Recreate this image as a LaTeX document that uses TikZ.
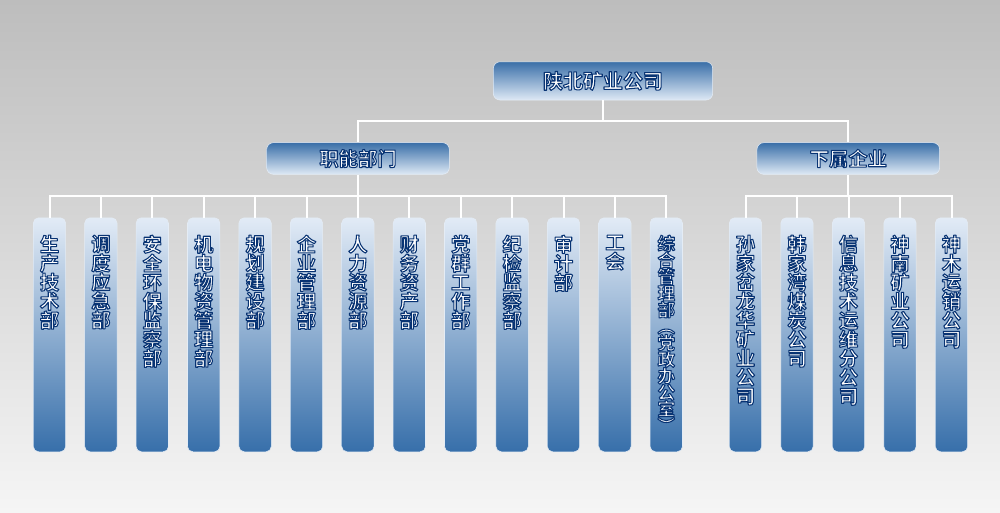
\documentclass[tikz,border=0pt]{standalone}
\usepackage{fontspec}
\newfontfamily\cjk{Noto Sans CJK SC}[BoldFont={Noto Sans CJK SC Bold}]
\usetikzlibrary{calc}
\definecolor{bgtop}{RGB}{189,189,189}
\definecolor{bgbot}{RGB}{245,245,245}
\definecolor{hdtop}{RGB}{58,111,168}
\definecolor{hdbot}{RGB}{222,233,245}
\definecolor{coltop}{RGB}{226,235,246}
\definecolor{colbot}{RGB}{55,111,170}
\definecolor{edgec}{RGB}{228,236,245}
\newcommand\otext[1]{{\leavevmode\color{white}\special{pdf:literal direct q 2 Tr 0.8 w 1 j 0.03 0.2 0.45 RG}#1\special{pdf:literal direct Q}}}
\newcommand\vtext[3]{\parbox[c][175.5pt][t]{24pt}{\centering\cjk\bfseries\fontsize{#1}{#2}\selectfont\lineskiplimit=-100pt\vspace*{13pt}\otext{#3}}}
\newcommand\htext[2]{{\cjk\bfseries\fontsize{#1}{#1}\selectfont\otext{#2}}}
\tikzset{
  hdbox/.style={rounded corners=5pt, top color=hdtop, bottom color=hdbot, draw=edgec, line width=0.4pt, inner sep=0pt},
  colbox/.style={rounded corners=4pt, top color=coltop, bottom color=colbot, draw=edgec, line width=0.4pt, inner sep=0pt, minimum width=24.3pt, anchor=north},
  conn/.style={draw=white, line width=1.5pt}
}
\begin{document}
\begin{tikzpicture}[x=0.75pt,y=-0.75pt]
\shade[top color=bgtop, bottom color=bgbot] (0,0) rectangle (1000,512);
\useasboundingbox (0,0) rectangle (1000,512);
\node[hdbox, minimum width=164.5pt, minimum height=28.7pt] (top) at (603,80.9) {\htext{15}{陕北矿业公司}};
\node[hdbox, minimum width=137pt, minimum height=23.7pt] (fn) at (358,158.5) {\htext{14.5}{职能部门}};
\node[hdbox, minimum width=137pt, minimum height=23.7pt] (sub) at (848.3,158.5) {\htext{14.5}{下属企业}};
\coordinate (bus1) at (0,120.7);
\coordinate (bus2) at (0,195.8);
% left columns
\node[colbox] (l1) at (49.5,217.5) {\vtext{14.5}{14.25}{生\\产\\技\\术\\部}};
\node[colbox] (l2) at (100.9,217.5) {\vtext{14.5}{14.25}{调\\度\\应\\急\\部}};
\node[colbox] (l3) at (152.3,217.5) {\vtext{14.5}{14.25}{安\\全\\环\\保\\监\\察\\部}};
\node[colbox] (l4) at (203.7,217.5) {\vtext{14.5}{14.25}{机\\电\\物\\资\\管\\理\\部}};
\node[colbox] (l5) at (255.1,217.5) {\vtext{14.5}{14.25}{规\\划\\建\\设\\部}};
\node[colbox] (l6) at (306.5,217.5) {\vtext{14.5}{14.25}{企\\业\\管\\理\\部}};
\node[colbox] (l7) at (357.9,217.5) {\vtext{14.5}{14.25}{人\\力\\资\\源\\部}};
\node[colbox] (l8) at (409.3,217.5) {\vtext{14.5}{14.25}{财\\务\\资\\产\\部}};
\node[colbox] (l9) at (460.7,217.5) {\vtext{14.5}{14.25}{党\\群\\工\\作\\部}};
\node[colbox] (l10) at (512.1,217.5) {\vtext{14.5}{14.25}{纪\\检\\监\\察\\部}};
\node[colbox] (l11) at (563.5,217.5) {\vtext{14.5}{14.25}{审\\计\\部}};
\node[colbox] (l12) at (614.9,217.5) {\vtext{14.5}{14.25}{工\\会}};
\node[colbox] (l13) at (666.3,217.5) {\vtext{13.2}{12.4}{综\\合\\管\\理\\部\\︵\\党\\政\\办\\公\\室\\︶}};
% right columns
\node[colbox] (r1) at (745.5,217.5) {\vtext{14.5}{14.25}{孙\\家\\岔\\龙\\华\\矿\\业\\公\\司}};
\node[colbox] (r2) at (797,217.5) {\vtext{14.5}{14.25}{韩\\家\\湾\\煤\\炭\\公\\司}};
\node[colbox] (r3) at (848.5,217.5) {\vtext{14.5}{14.25}{信\\息\\技\\术\\运\\维\\分\\公\\司}};
\node[colbox] (r4) at (900,217.5) {\vtext{14.5}{14.25}{神\\南\\矿\\业\\公\\司}};
\node[colbox] (r5) at (951.5,217.5) {\vtext{14.5}{14.25}{神\\木\\运\\销\\公\\司}};
% connectors
\draw[conn] (top.south) -- (top.south |- bus1) -| (fn.north);
\draw[conn] (top.south |- bus1) -| (sub.north);
\draw[conn] (fn.south) -- (fn.south |- bus2);
\foreach \c in {l1,l2,l3,l4,l5,l6,l7,l8,l9,l10,l11,l12,l13}
  \draw[conn] (\c.north) |- (fn.south |- bus2);
\draw[conn] (sub.south) -- (sub.south |- bus2);
\foreach \c in {r1,r2,r3,r4,r5}
  \draw[conn] (\c.north) |- (sub.south |- bus2);
\end{tikzpicture}
\end{document}
